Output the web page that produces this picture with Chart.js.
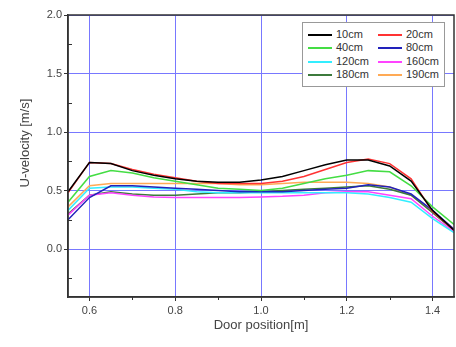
<!DOCTYPE html>
<html>
<head>
<meta charset="utf-8">
<script src="https://cdn.jsdelivr.net/npm/chart.js@4.4.0/dist/chart.umd.min.js"></script>
<style>
  html, body { margin: 0; padding: 0; background: #fff; }
  #wrap { position: relative; width: 456px; height: 347px; }
  #legend {
    position: absolute; left: 302px; top: 22px; width: 143px; height: 65px;
    border: 1px solid #999; background: #fff; box-sizing: border-box;
    font: 11px "Liberation Sans", Arial, sans-serif; color: #333;
  }
  .item { position: absolute; height: 13px; line-height: 13px; white-space: nowrap; }
  .item .ln { display: inline-block; width: 24px; height: 2px; vertical-align: middle; margin-right: 4px; }
</style>
</head>
<body>
<div id="wrap">
  <canvas id="grafico" width="456" height="347"></canvas>
  <div id="legend"></div>
</div>
<script>
// posiciones de la puerta (m)
const xPos = [0.55, 0.6, 0.65, 0.7, 0.75, 0.8, 0.85, 0.9, 0.95, 1.0, 1.05, 1.1, 1.15, 1.2, 1.25, 1.3, 1.35, 1.4, 1.45];

const labels = ["10cm", "20cm", "40cm", "80cm", "120cm", "160cm", "180cm", "190cm"];
const colors = ["#000000", "#ff3333", "#44dd44", "#2222bb", "#33eeff", "#ff44ff", "#3c7a3c", "#ffaa55"];

const u10  = [0.49, 0.74, 0.73, 0.67, 0.63, 0.60, 0.58, 0.57, 0.57, 0.59, 0.62, 0.67, 0.72, 0.76, 0.76, 0.71, 0.58, 0.33, 0.16];
const u20  = [0.48, 0.74, 0.73, 0.68, 0.64, 0.61, 0.58, 0.56, 0.56, 0.56, 0.58, 0.62, 0.68, 0.74, 0.77, 0.73, 0.60, 0.32, 0.16];
const u40  = [0.40, 0.62, 0.67, 0.65, 0.61, 0.58, 0.55, 0.52, 0.51, 0.50, 0.52, 0.56, 0.60, 0.63, 0.67, 0.66, 0.54, 0.36, 0.21];
const u80  = [0.25, 0.44, 0.54, 0.54, 0.53, 0.52, 0.51, 0.50, 0.49, 0.49, 0.49, 0.50, 0.51, 0.52, 0.55, 0.53, 0.47, 0.33, 0.17];
const u120 = [0.33, 0.52, 0.53, 0.53, 0.52, 0.51, 0.49, 0.48, 0.48, 0.48, 0.48, 0.48, 0.48, 0.48, 0.47, 0.44, 0.40, 0.26, 0.14];
const u160 = [0.29, 0.46, 0.48, 0.46, 0.445, 0.44, 0.44, 0.44, 0.44, 0.445, 0.45, 0.46, 0.48, 0.49, 0.49, 0.46, 0.43, 0.28, 0.15];
const u180 = [0.30, 0.46, 0.49, 0.47, 0.46, 0.46, 0.47, 0.48, 0.48, 0.49, 0.50, 0.51, 0.52, 0.53, 0.54, 0.51, 0.46, 0.31, 0.16];
const u190 = [0.36, 0.54, 0.56, 0.56, 0.56, 0.56, 0.56, 0.56, 0.55, 0.55, 0.56, 0.57, 0.57, 0.57, 0.56, 0.53, 0.46, 0.32, 0.17];
const series = [u10, u20, u40, u80, u120, u160, u180, u190];

const xTicks = [0.6, 0.8, 1.0, 1.2, 1.4];
const xMinor = [0.7, 0.9, 1.1, 1.3];
const yTicks = [0.0, 0.5, 1.0, 1.5, 2.0];
const yMinor = [-0.25, 0.25, 0.75, 1.25, 1.75];

const fuente = "'Liberation Sans', Arial, sans-serif";
const gridAzul = "#7878ff";

// marco, ticks menores y titulo del eje y
const marco = {
  id: "marco",
  afterDraw(chart) {
    const { ctx, chartArea: a, scales: { x, y } } = chart;
    ctx.save();
    ctx.strokeStyle = "#333";
    ctx.lineWidth = 1;
    ctx.beginPath();
    xMinor.forEach(v => {
      const px = Math.round(x.getPixelForValue(v)) + 0.5;
      ctx.moveTo(px, a.bottom); ctx.lineTo(px, a.bottom + 3);
    });
    yMinor.forEach(v => {
      const py = Math.round(y.getPixelForValue(v)) + 0.5;
      ctx.moveTo(a.left, py); ctx.lineTo(a.left + 4, py);
    });
    ctx.stroke();
    ctx.lineWidth = 1.5;
    ctx.strokeRect(a.left, a.top, a.right - a.left, a.bottom - a.top);

    ctx.translate(25, 143);
    ctx.rotate(-Math.PI / 2);
    ctx.fillStyle = "#444";
    ctx.font = "13px " + fuente;
    ctx.textAlign = "center";
    ctx.textBaseline = "middle";
    ctx.fillText("U-velocity [m/s]", 0, 0);
    ctx.restore();
  }
};

function generarGrafico() {
  const ctx = document.getElementById("grafico").getContext("2d");

  new Chart(ctx, {
    type: "line",
    data: {
      datasets: series.map((s, i) => ({
        label: labels[i],
        data: xPos.map((x, j) => ({ x: x, y: s[j] })),
        borderColor: colors[i],
        backgroundColor: colors[i],
        borderWidth: 1.5,
        pointRadius: 0,
        tension: 0
      }))
    },
    options: {
      responsive: false,
      animation: false,
      layout: { padding: { top: 15, right: 2, left: 0, bottom: 0 } },
      plugins: {
        legend: { display: false },
        tooltip: { enabled: false }
      },
      scales: {
        x: {
          type: "linear",
          min: 0.55,
          max: 1.45,
          afterBuildTicks: s => { s.ticks = xTicks.map(v => ({ value: v })); },
          afterFit: s => { s.height = 50; },
          grid: { color: gridAzul, lineWidth: 1, tickColor: "#333", tickLength: 4 },
          border: { color: "#333", width: 1.5 },
          ticks: {
            callback: v => v.toFixed(1),
            color: "#444",
            font: { size: 11, family: fuente },
            padding: 3,
            maxRotation: 0
          },
          title: {
            display: true,
            text: "Door position[m]",
            color: "#444",
            font: { size: 13, family: fuente },
            padding: { top: 0, bottom: 14 }
          }
        },
        y: {
          min: -0.41,
          max: 2.0,
          afterBuildTicks: s => { s.ticks = yTicks.map(v => ({ value: v })); },
          afterFit: s => { s.width = 68; },
          grid: { color: gridAzul, lineWidth: 1, tickColor: "#333", tickLength: 4 },
          border: { color: "#333", width: 1.5 },
          ticks: {
            callback: v => v.toFixed(1),
            color: "#444",
            font: { size: 11, family: fuente },
            padding: 2
          }
        }
      }
    },
    plugins: [marco]
  });
}

function generarLeyenda() {
  const caja = document.getElementById("legend");
  const filas = [12, 25.3, 39.7, 52.3];
  const columnas = [5, 75];
  labels.forEach((lab, i) => {
    const item = document.createElement("div");
    item.className = "item";
    item.style.left = columnas[i % 2] + "px";
    item.style.top = (filas[Math.floor(i / 2)] - 7.5) + "px";
    item.innerHTML = '<span class="ln" style="background:' + colors[i] + '"></span>' + lab;
    caja.appendChild(item);
  });
}

generarGrafico();
generarLeyenda();
</script>
</body>
</html>
